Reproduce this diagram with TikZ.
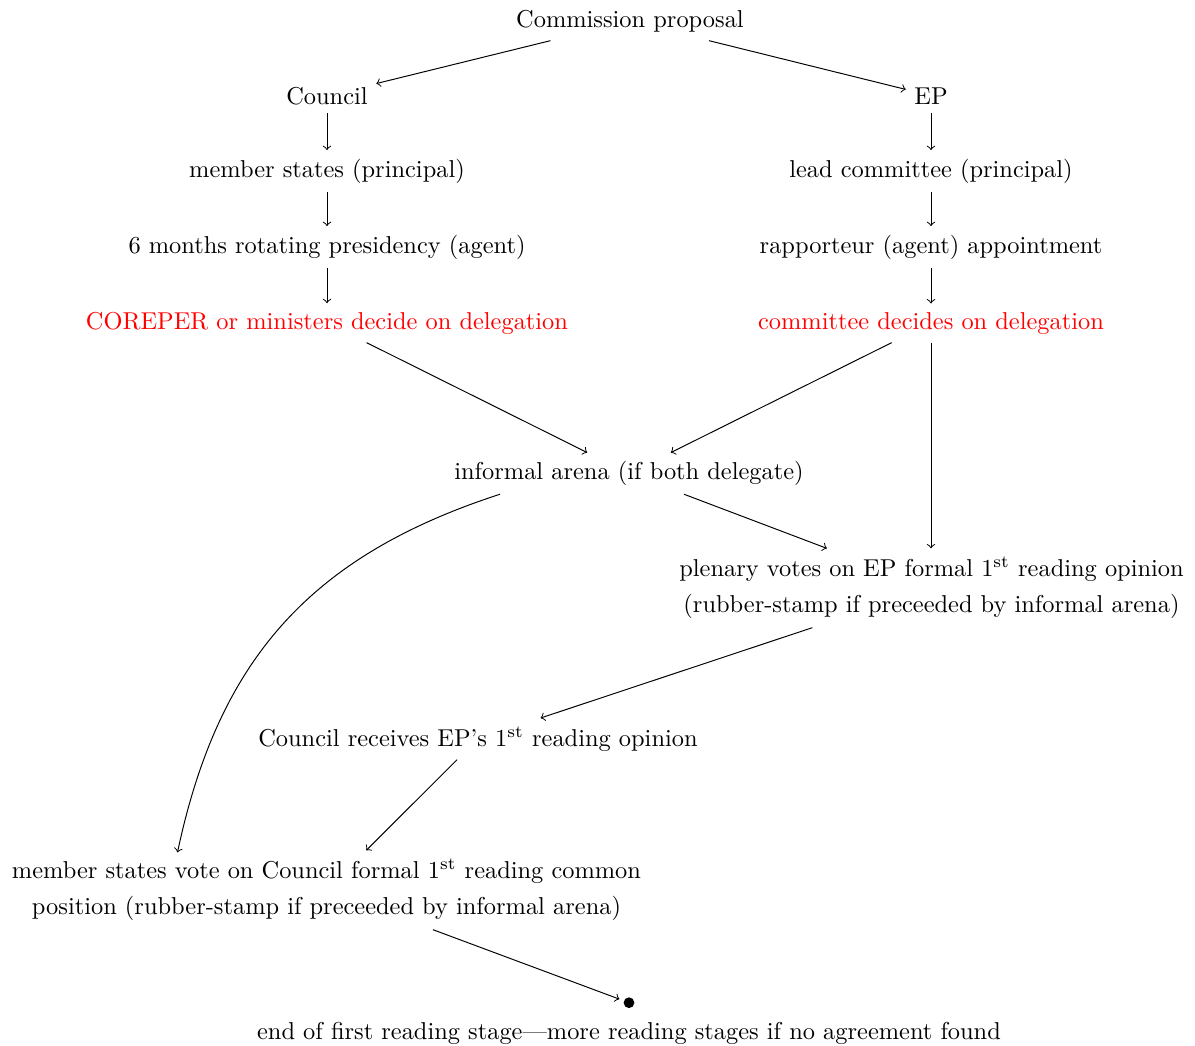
\documentclass[tikz,border=0pt]{standalone}
\usetikzlibrary{calc}
\begin{document}
\begin{tikzpicture}[x=0.4098pt, y=-0.4098pt, >=to,
  box/.style={anchor=base, text=black},
  hot/.style={anchor=base, text=red},
  multi/.style={align=center},
  conn/.style={->, line width=0.4pt}]
\useasboundingbox (0,0) rectangle (1195,1045);
\node[box] (cp) at (630,27.3) {Commission proposal};
\node[box] (co) at (327,104) {Council};
\node[box] (ep) at (931,104) {EP};
\node[box] (ms) at (327,177) {member states (principal)};
\node[box] (lc) at (931,177) {lead committee (principal)};
\node[box] (pr) at (327,253) {6 months rotating presidency (agent)};
\node[box] (ra) at (931,253) {rapporteur (agent) appointment};
\node[hot] (cr) at (327,329) {COREPER or ministers decide on delegation};
\node[hot] (cd) at (931,329) {committee decides on delegation};
\node[box] (ia) at (629,479.5) {informal arena (if both delegate)};
\node[multi] (pv) at (931.5,588) {plenary votes on EP formal 1\textsuperscript{st} reading opinion\\[3pt](rubber-stamp if preceeded by informal arena)};
\node[box] (rc) at (478,746) {Council receives EP's 1\textsuperscript{st} reading opinion};
\node[multi] (mv) at (326.5,890) {member states vote on Council formal 1\textsuperscript{st} reading common\\[3pt]position (rubber-stamp if preceeded by informal arena)};
\node[circle, fill, inner sep=0pt, minimum size=4.4pt, outer sep=2pt] (dot) at (629,1002.7) {};
\node[box] (el) at (629,1039) {end of first reading stage---more reading stages if no agreement found};

\draw[conn] (cp) -- (co);
\draw[conn] (cp) -- (ep);
\draw[conn] (co) -- (ms);
\draw[conn] (ms) -- (pr);
\draw[conn] (pr) -- (cr);
\draw[conn] (ep) -- (lc);
\draw[conn] (lc) -- (ra);
\draw[conn] (ra) -- (cd);
\draw[conn] (cr) -- (ia);
\draw[conn] (cd) -- (ia);
\draw[conn] (cd) -- (cd |- pv.north);
\draw[conn] (ia) -- (pv);
\draw[conn] (pv) -- (rc);
\draw[conn] (rc) -- (mv);
\draw[conn] (mv) -- (dot);
\coordinate (cs) at ($(ia.south)+(-129,0)$);
\coordinate (ce) at ($(mv.north)+(-149,2)$);
\draw[conn] (cs) to[out=198, in=78, looseness=1.05] (ce);
\end{tikzpicture}
\end{document}
